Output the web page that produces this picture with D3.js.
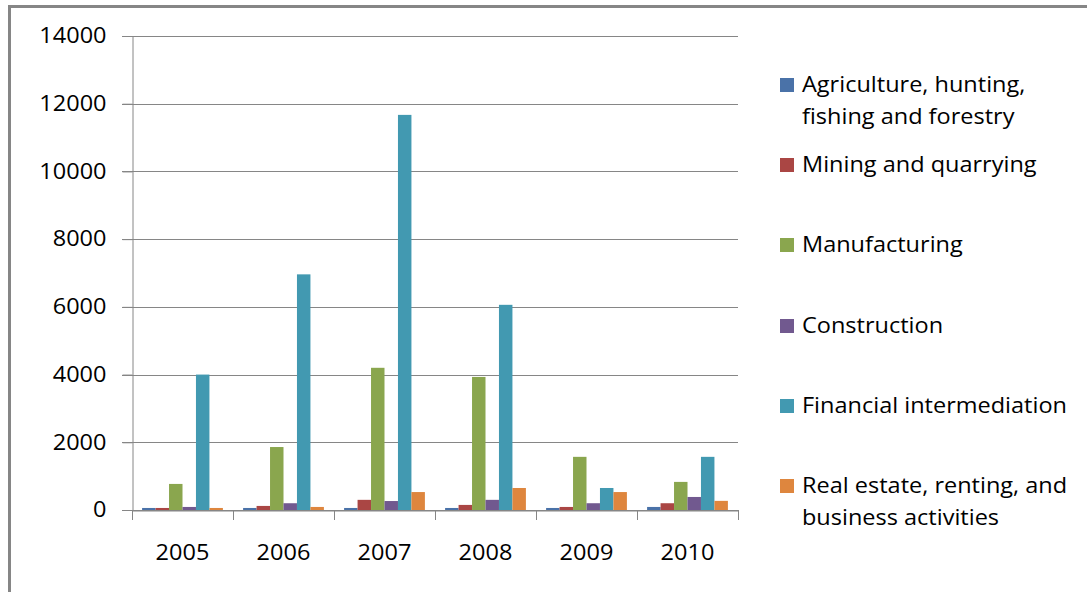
<!DOCTYPE html>
<html>
<head>
<meta charset="utf-8">
<script src="https://cdn.jsdelivr.net/npm/d3@7/dist/d3.min.js"></script>
<style>
  html, body { margin: 0; padding: 0; background: #fff; }
  svg { display: block; }
  text { font-family: "Open Sans", "Liberation Sans", sans-serif; fill: #000; }
</style>
</head>
<body>
<svg id="chart" width="1087" height="592"></svg>
<script>
// Investment by sector, 2005–2010
const years = ["2005", "2006", "2007", "2008", "2009", "2010"];
const sectors = [
  "Agriculture, hunting, fishing and forestry",
  "Mining and quarrying",
  "Manufacturing",
  "Construction",
  "Financial intermediation",
  "Real estate, renting, and business activities"
];
const legendLines = [
  ["Agriculture, hunting,", "fishing and forestry"],
  ["Mining and quarrying"],
  ["Manufacturing"],
  ["Construction"],
  ["Financial intermediation"],
  ["Real estate, renting, and", "business activities"]
];
const agriculture   = [60, 60, 60, 60, 60, 90];
const mining        = [60, 120, 300, 150, 90, 200];
const manufacturing = [770, 1860, 4200, 3930, 1570, 830];
const construction  = [90, 200, 265, 300, 200, 385];
const financial     = [4000, 6960, 11670, 6060, 650, 1570];
const realEstate    = [60, 90, 530, 650, 530, 270];
const yTicks = [0, 2000, 4000, 6000, 8000, 10000, 12000, 14000];
const colors = ["#4a72a8", "#aa4644", "#8aa64e", "#71598f", "#4299b1", "#de863e"];

const seriesValues = [agriculture, mining, manufacturing, construction, financial, realEstate];

const svg = d3.select("#chart");
const plot = { left: 132, right: 738, top: 36, bottom: 510 };
const axisColor = "#868686";
const fontSize = "21px";
const stretch = 1.12; // widen glyphs horizontally, anchored at each label's x

function widen(sel) {
  sel.each(function () {
    const t = d3.select(this);
    const x = +t.attr("x") || 0;
    t.attr("transform", `translate(${x * (1 - stretch)},0) scale(${stretch},1)`);
  });
}

// Outer chart frame
svg.append("path")
  .attr("d", "M9.5,592 V6.5 H1087")
  .attr("fill", "none")
  .attr("stroke", axisColor)
  .attr("stroke-width", 3);

const x0 = d3.scaleBand().domain(years).range([plot.left, plot.right]).paddingInner(0).paddingOuter(0);
const x1 = d3.scaleBand().domain(d3.range(sectors.length)).range([0, x0.bandwidth()])
  .paddingInner(0).paddingOuter(0.75);
const y = d3.scaleLinear().domain([0, 14000]).range([plot.bottom, plot.top]);

// Horizontal gridlines
svg.append("g")
  .selectAll("line")
  .data(yTicks)
  .join("line")
  .attr("x1", plot.left - 10)
  .attr("x2", plot.right)
  .attr("y1", d => Math.round(y(d)) + 0.5)
  .attr("y2", d => Math.round(y(d)) + 0.5)
  .attr("stroke", axisColor)
  .attr("stroke-width", 1);

// Y axis
const yAxis = svg.append("g")
  .attr("transform", `translate(${plot.left + 0.5},0)`)
  .call(d3.axisLeft(y).tickValues(yTicks).tickSize(10).tickPadding(16).tickFormat(d3.format("d")));
yAxis.select(".domain").attr("stroke", axisColor);
yAxis.selectAll(".tick line").attr("stroke", axisColor);
yAxis.selectAll("text").style("font-size", fontSize).attr("fill", "#000").call(widen);

// Bars
const groups = svg.append("g")
  .selectAll("g")
  .data(years)
  .join("g")
  .attr("transform", d => `translate(${x0(d)},0)`);

groups.selectAll("rect")
  .data((yr, i) => seriesValues.map((vals, s) => ({ s, v: vals[i] })))
  .join("rect")
  .attr("x", d => x1(d.s))
  .attr("width", x1.bandwidth())
  .attr("y", d => y(d.v))
  .attr("height", d => y(0) - y(d.v))
  .attr("fill", d => colors[d.s]);

// X axis baseline and category boundary ticks
const xAxis = svg.append("g")
  .attr("transform", `translate(0,${Math.round(y(0)) + 0.5})`)
  .call(d3.axisBottom(x0).tickSize(0).tickPadding(35));
xAxis.select(".domain").attr("stroke", axisColor);
xAxis.selectAll("text").style("font-size", fontSize).attr("fill", "#000").call(widen);

const boundaries = years.map(d => x0(d)).concat([x0(years[years.length - 1]) + x0.bandwidth()]);
svg.append("g")
  .selectAll("line")
  .data(boundaries)
  .join("line")
  .attr("x1", d => Math.round(d) + 0.5)
  .attr("x2", d => Math.round(d) + 0.5)
  .attr("y1", Math.round(y(0)))
  .attr("y2", Math.round(y(0)) + 10)
  .attr("stroke", axisColor);

// Legend
const legendY = [85, 165, 245, 326, 406, 486];
const legend = svg.append("g")
  .selectAll("g")
  .data(legendLines)
  .join("g")
  .attr("transform", (d, i) => `translate(780,${legendY[i]})`);

legend.append("rect")
  .attr("x", 0)
  .attr("y", -7)
  .attr("width", 14)
  .attr("height", 14)
  .attr("fill", (d, i) => colors[i]);

legend.each(function (lines) {
  const g = d3.select(this);
  lines.forEach((line, k) => {
    g.append("text")
      .attr("x", 22)
      .attr("y", k * 32)
      .attr("dy", "0.35em")
      .style("font-size", fontSize)
      .text(line)
      .call(widen);
  });
});
</script>
</body>
</html>
